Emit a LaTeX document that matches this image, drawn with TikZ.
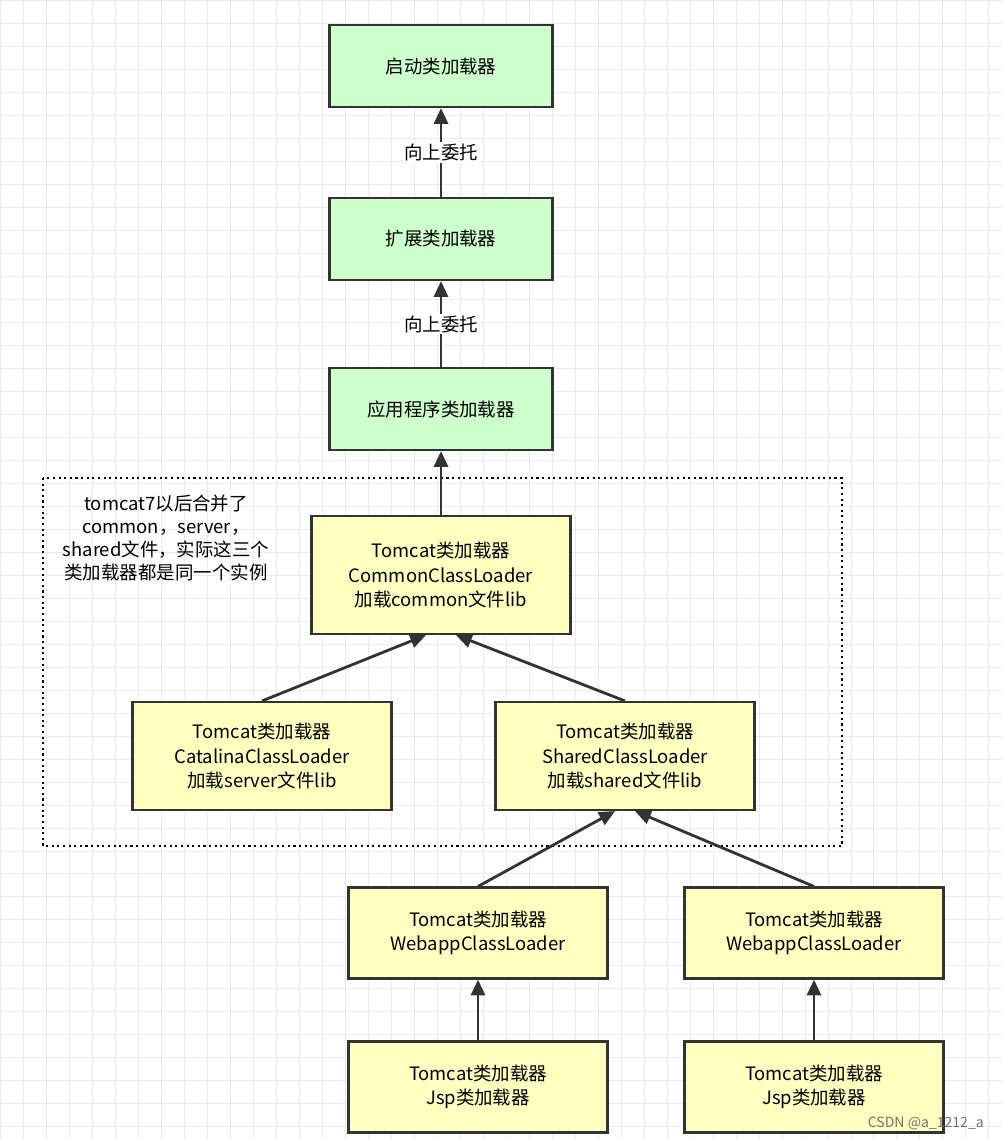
\documentclass[tikz,border=0pt]{standalone}
\usepackage{fontspec}
\setmainfont{Noto Sans CJK SC}
\usetikzlibrary{arrows.meta}
\definecolor{gbox}{HTML}{CCFFCC}
\definecolor{ybox}{HTML}{FFFFC0}
\begin{document}
\begin{tikzpicture}[x=0.02cm,y=-0.02cm,
  box/.style={draw=black!80,line width=1.2pt,minimum width=4.46cm,minimum height=1.64cm,align=center,font=\fontsize{10.5}{14}\selectfont},
  gb/.style={box,fill=gbox},
  yb/.style={box,fill=ybox,minimum width=5.18cm,minimum height=1.82cm},
  arr/.style={line width=1.6pt,draw=black!80,-{Triangle[length=9pt,width=8pt]}},
  lbl/.style={fill=white,inner sep=1pt,font=\fontsize{10.5}{13}\selectfont}]
\useasboundingbox (0,0) rectangle (1002,1139);
% grid
\draw[black!8,step=0.46cm] (0,0) grid (1002,1139);
% dotted group
\draw[line width=1.2pt,dotted] (43,478) rectangle (842,846);
\node[align=center,font=\fontsize{10.5}{13}\selectfont] (note) at (166,538) {tomcat7以后合并了\\common，server，\\shared文件，实际这三个\\类加载器都是同一个实例};
% nodes
\node[gb] (boot) at (441,66) {启动类加载器};
\node[gb] (ext) at (441,239) {扩展类加载器};
\node[gb] (app) at (441,409) {应用程序类加载器};
\node[yb,minimum height=2.36cm] (common) at (441,575) {Tomcat类加载器\\CommonClassLoader\\加载common文件lib};
\node[yb,minimum height=2.16cm] (cat) at (262,756) {Tomcat类加载器\\CatalinaClassLoader\\加载server文件lib};
\node[yb,minimum height=2.16cm] (shared) at (625,756) {Tomcat类加载器\\SharedClassLoader\\加载shared文件lib};
\node[yb] (web1) at (478,933) {Tomcat类加载器\\WebappClassLoader};
\node[yb] (web2) at (814,933) {Tomcat类加载器\\WebappClassLoader};
\node[yb] (jsp1) at (478,1087) {Tomcat类加载器\\Jsp类加载器};
\node[yb] (jsp2) at (814,1087) {Tomcat类加载器\\Jsp类加载器};
% connectors
\draw[arr] (ext) -- node[lbl] {向上委托} (boot);
\draw[arr] (app) -- node[lbl] {向上委托} (ext);
\draw[arr] (common) -- (app);
\draw[arr] (cat.north) -- ([xshift=-0.3cm]common.south);
\draw[arr] (shared.north) -- ([xshift=0.3cm]common.south);
\draw[arr] (web1.north) -- ([xshift=-0.2cm]shared.south);
\draw[arr] (web2.north) -- ([xshift=0.2cm]shared.south);
\draw[arr] (jsp1) -- (web1);
\draw[arr] (jsp2) -- (web2);
\node[text=black!55,font=\fontsize{8}{9}\selectfont,anchor=east] (wm) at (990,1123) {CSDN @a\_1212\_a};
\end{tikzpicture}
\end{document}
